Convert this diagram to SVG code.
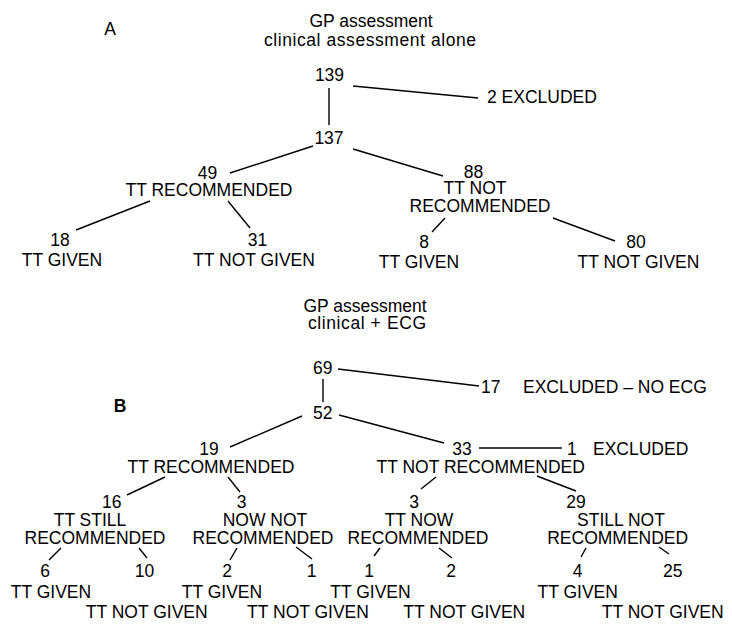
<svg xmlns="http://www.w3.org/2000/svg" width="732" height="632" viewBox="0 0 732 632">
<style>
text{font-family:"Liberation Sans",Arial,sans-serif;font-size:17.5px;fill:#000;text-anchor:middle}
.l{text-anchor:start}
.b{font-weight:bold}
#connectors line{stroke:#000;stroke-width:1.4;fill:none}
</style>
<rect width="732" height="632" fill="#fff"/>
<g id="connectors">
<line x1="329" y1="88" x2="329" y2="125"/>
<line x1="353" y1="86" x2="478" y2="98"/>
<line x1="313" y1="146" x2="230" y2="173"/>
<line x1="353" y1="149" x2="443" y2="176"/>
<line x1="150" y1="201" x2="76" y2="230"/>
<line x1="228" y1="201" x2="250" y2="228"/>
<line x1="445" y1="218" x2="432" y2="232"/>
<line x1="553" y1="218" x2="615" y2="241"/>
<line x1="323" y1="379" x2="323" y2="402"/>
<line x1="338" y1="369" x2="479" y2="386"/>
<line x1="302" y1="416" x2="230" y2="447"/>
<line x1="339" y1="415" x2="444" y2="443"/>
<line x1="479" y1="448" x2="562" y2="448"/>
<line x1="165" y1="477" x2="127" y2="495"/>
<line x1="228" y1="477" x2="240" y2="492"/>
<line x1="436" y1="477" x2="421" y2="489"/>
<line x1="537" y1="476" x2="576" y2="491"/>
<line x1="61" y1="548" x2="49" y2="560"/>
<line x1="139" y1="548" x2="147" y2="558"/>
<line x1="237" y1="548" x2="230" y2="560"/>
<line x1="296" y1="547" x2="312" y2="559"/>
<line x1="380" y1="548" x2="374" y2="556"/>
<line x1="439" y1="548" x2="452" y2="558"/>
<line x1="586" y1="548" x2="581" y2="557"/>
<line x1="659" y1="547" x2="669" y2="554"/>
</g>
<g id="labelA"><text x="110" y="35">A</text></g>
<g id="titleA"><text x="371" y="27">GP assessment</text><text x="370" y="46" textLength="212" lengthAdjust="spacing">clinical assessment alone</text></g>
<g id="a139"><text x="329.5" y="81">139</text></g>
<g id="a2excl"><text class="l" x="487" y="103">2 EXCLUDED</text></g>
<g id="a137"><text x="329" y="144">137</text></g>
<g id="a49"><text x="207.5" y="179">49</text><text x="209" y="196">TT RECOMMENDED</text></g>
<g id="a88"><text x="473.5" y="178">88</text><text x="475" y="194">TT NOT</text><text x="480" y="212">RECOMMENDED</text></g>
<g id="a18"><text x="60" y="246">18</text><text x="62" y="266">TT GIVEN</text></g>
<g id="a31"><text x="257.5" y="246">31</text><text x="254" y="266">TT NOT GIVEN</text></g>
<g id="a8"><text x="424" y="248">8</text><text x="419" y="268">TT GIVEN</text></g>
<g id="a80"><text x="636" y="248">80</text><text x="638.5" y="268">TT NOT GIVEN</text></g>
<g id="titleB"><text x="365" y="311.5">GP assessment</text><text x="367" y="328.5" textLength="118" lengthAdjust="spacing">clinical + ECG</text></g>
<g id="labelB"><text class="b" x="120" y="411.5">B</text></g>
<g id="b69"><text x="322.7" y="374">69</text></g>
<g id="b17"><text class="l" x="481" y="393">17</text><text class="l" x="523" y="393">EXCLUDED – NO ECG</text></g>
<g id="b52"><text x="322.7" y="419">52</text></g>
<g id="b19"><text x="209" y="455">19</text><text x="211" y="473">TT RECOMMENDED</text></g>
<g id="b33"><text x="462" y="455">33</text><text x="480.7" y="473">TT NOT RECOMMENDED</text></g>
<g id="b1excl"><text class="l" x="567" y="455">1</text><text class="l" x="593" y="455">EXCLUDED</text></g>
<g id="b16"><text x="111.7" y="508">16</text><text x="90" y="526">TT STILL</text><text x="95" y="544">RECOMMENDED</text></g>
<g id="b3a"><text x="241.7" y="508">3</text><text x="265" y="526">NOW NOT</text><text x="263" y="544">RECOMMENDED</text></g>
<g id="b3b"><text x="414" y="508">3</text><text x="419" y="526">TT NOW</text><text x="418" y="544">RECOMMENDED</text></g>
<g id="b29"><text x="576" y="508">29</text><text x="621" y="526">STILL NOT</text><text x="617.7" y="544">RECOMMENDED</text></g>
<g id="b6"><text x="45" y="577">6</text><text x="51" y="598">TT GIVEN</text></g>
<g id="b10"><text x="144.5" y="577">10</text><text x="146.7" y="618">TT NOT GIVEN</text></g>
<g id="b2"><text x="227" y="577">2</text><text x="222" y="598">TT GIVEN</text></g>
<g id="b1"><text x="311.5" y="577">1</text><text x="308" y="618">TT NOT GIVEN</text></g>
<g id="b1b"><text x="369" y="577">1</text><text x="370.5" y="598">TT GIVEN</text></g>
<g id="b2b"><text x="451" y="577">2</text><text x="464.3" y="618">TT NOT GIVEN</text></g>
<g id="b4"><text x="577.7" y="577">4</text><text x="577.7" y="598">TT GIVEN</text></g>
<g id="b25"><text x="672.7" y="577">25</text><text x="662.7" y="618">TT NOT GIVEN</text></g>
</svg>
